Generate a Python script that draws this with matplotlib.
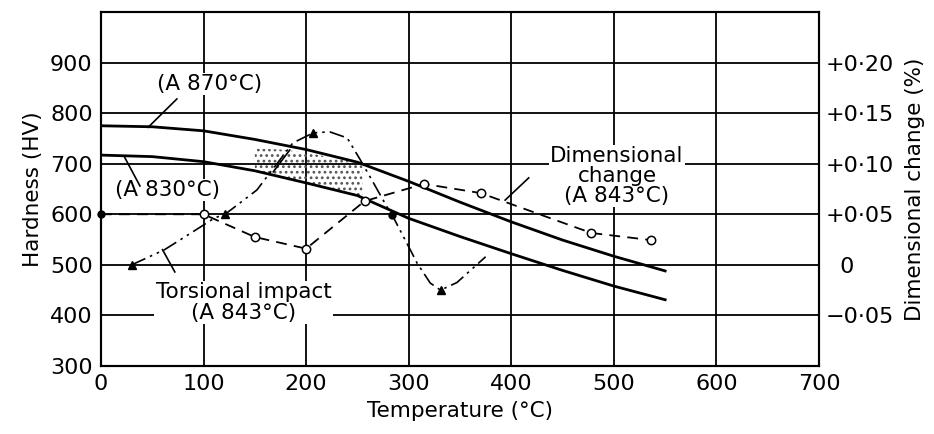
import matplotlib
matplotlib.use("Agg")
from matplotlib import pyplot as plt

plt.rcParams['font.family'] = ['DejaVu Sans']

# hardness curves (HV)
temp = [0, 50, 100, 150, 200, 250, 300, 350, 400, 450, 500, 550]
hv_870 = [775, 773, 765, 748, 728, 703, 665, 624, 585, 549, 517, 488]
hv_830 = [717, 714, 704, 686, 662, 637, 592, 556, 522, 489, 458, 431]

# dimensional change (%) for A 843C
dim_t = [0, 100, 150, 200, 257, 315, 370, 478, 536]
dim_pct = [0.050, 0.050, 0.0275, 0.016, 0.063, 0.080, 0.071, 0.0315, 0.0245]

# torsional impact curve (relative, drawn on the hardness scale)
imp_t = [30, 62, 80, 111, 121, 152, 158, 187, 207, 223, 240, 253, 264, 279, 284, 303, 308, 321, 331, 347, 375]
imp_v = [500, 530, 553, 593, 600, 648, 664, 741, 761, 763, 751, 707, 668, 614, 598, 524, 504, 464, 450, 465, 516]
imp_mark_t = [30, 121, 207, 331]
imp_mark_v = [500, 600, 761, 450]

# stippled band between the curves
band_t = [150, 175, 200, 225, 255]
band_top = [730, 728, 722, 712, 698]
band_bot = [686, 675, 662, 650, 633]

x_ticks = [0, 100, 200, 300, 400, 500, 600, 700]
hv_ticks = [300, 400, 500, 600, 700, 800, 900]
dim_ticks = [-0.05, 0, 0.05, 0.10, 0.15, 0.20]
dim_labels = ['\u22120\u00b705', '\u20070', '+0\u00b705', '+0\u00b710', '+0\u00b715', '+0\u00b720']

fig = plt.figure(figsize=(9.34, 4.34), dpi=100)
ax = fig.add_axes([0.1081, 0.1567, 0.7688, 0.8157])
ax2 = ax.twinx()

ax.set_xlim(0, 700)
ax.set_ylim(300, 1000)
ax2.set_ylim(-0.10, 0.25)

for v in [100, 200, 300, 400, 500, 600]:
    ax.axvline(v, color='black', lw=1.3, zorder=1)
for h in [400, 500, 600, 700, 800, 900]:
    ax.axhline(h, color='black', lw=1.3, zorder=1)

plt.rcParams['hatch.linewidth'] = 1.2
ax.fill_between(band_t, band_bot, band_top, facecolor='none', edgecolor='#555555',
                hatch='...', linewidth=0, zorder=2)

ax.plot(temp, hv_870, color='black', lw=2.0, zorder=4)
ax.plot(temp, hv_830, color='black', lw=2.0, zorder=4)

ax.plot(imp_t, imp_v, color='black', lw=1.2, dashes=(9, 3, 1.5, 3, 1.5, 3), zorder=4)
ax.plot(imp_mark_t, imp_mark_v, linestyle='none', marker='^', color='black', ms=6, zorder=5)
ax.plot([284], [598], linestyle='none', marker='o', color='black', ms=5, zorder=5)

ax2.plot(dim_t, dim_pct, color='black', lw=1.3, dashes=(6, 4), zorder=4)
ax2.plot(dim_t[1:], dim_pct[1:], linestyle='none', marker='o', mfc='white', mec='black',
         mew=1.1, ms=6, zorder=5)
ax2.plot(dim_t[:1], dim_pct[:1], linestyle='none', marker='o', color='black', ms=5,
         clip_on=False, zorder=5)

# leader lines
ax.plot([74, 46], [828, 772], color='black', lw=1.2, zorder=4)
ax.plot([38, 23], [656, 713], color='black', lw=1.2, zorder=4)
ax.plot([72, 60], [486, 530], color='black', lw=1.2, zorder=4)
ax.plot([417, 394], [672, 628], color='black', lw=1.2, zorder=4)
ax.plot([184, 168], [727, 684], color='black', lw=1.2, zorder=4)

box = dict(facecolor='white', edgecolor='none', pad=1)
ax.text(106, 858, '(A 870\u00b0C)', fontsize=15.5, ha='center', va='center', bbox=box, zorder=3)
ax.text(65, 648, '(A 830\u00b0C)', fontsize=15.5, ha='center', va='center', bbox=box, zorder=3)
ax.text(139, 425, 'Torsional impact\n(A 843\u00b0C)', fontsize=15.5, ha='center', va='center',
        linespacing=1.05, bbox=box, zorder=3)
ax.text(503, 676, 'Dimensional\nchange\n(A 843\u00b0C)', fontsize=15.5, ha='center', va='center',
        linespacing=1.0, bbox=box, zorder=3)

ax.set_xticks(x_ticks)
ax.set_yticks(hv_ticks)
ax2.set_yticks(dim_ticks)
ax2.set_yticklabels(dim_labels)
ax.tick_params(length=0, labelsize=16, pad=6)
ax2.tick_params(length=0, labelsize=16, pad=5)

ax.set_xlabel('Temperature (\u00b0C)', fontsize=15.5, labelpad=5)
ax.set_ylabel('Hardness (HV)', fontsize=15.5, labelpad=5)
ax2.set_ylabel('Dimensional change (%)', fontsize=15.5, labelpad=8)

for a in (ax, ax2):
    for s in a.spines.values():
        s.set_linewidth(1.5)

fig.savefig('out.png', dpi=100)
